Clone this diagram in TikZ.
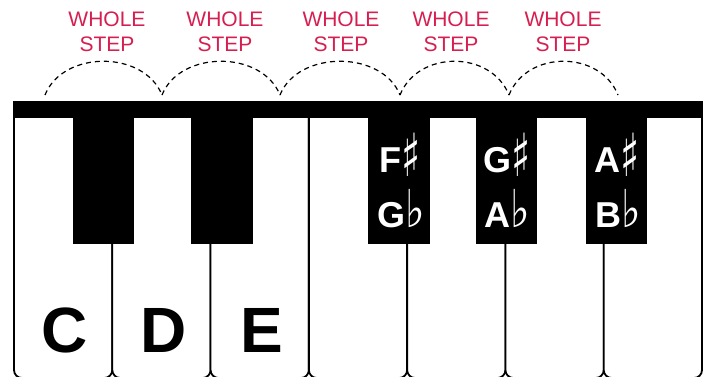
\documentclass[tikz,border=0pt]{standalone}
\usepackage{fontspec}
\usepackage{graphicx}
\setmainfont{Liberation Sans}
\newfontfamily\symfont{DejaVu Sans}
\definecolor{steprd}{RGB}{214,30,80}
\newcommand\shp{\raisebox{-4pt}{\scalebox{1.1}[1.65]{\symfont\mdseries\char"266F}}}
\newcommand\flt{\scalebox{1.15}[1.45]{\symfont\mdseries\char"266D}}
\begin{document}
\begin{tikzpicture}[x=1pt,y=-1pt,
  wkey/.style={draw=black, line width=1.8pt, fill=white, rounded corners=8pt},
  bkey/.style={fill=black},
  steparc/.style={draw=black, dash pattern=on 5pt off 4pt, line width=1.2pt},
  steplbl/.style={text=steprd, font=\fontsize{21}{25}\selectfont, align=center, inner sep=0pt},
  natlbl/.style={font=\bfseries\fontsize{64}{64}\selectfont, anchor=base, inner sep=0pt},
  acclbl/.style={text=white, font=\bfseries\fontsize{36}{36}\selectfont, anchor=base, inner sep=0pt}]
\useasboundingbox (0,0) rectangle (712,376);
% white keys
\foreach \i in {0,...,6} {
  \pgfmathsetmacro\xa{14+98.2857*\i}
  \pgfmathsetmacro\xb{14+98.2857*(\i+1)}
  \draw[wkey] (\xa,110) -- (\xa,378) -- (\xb,378) -- (\xb,110);
}
% top bar
\fill[bkey] (13,101) rectangle (703,118);
% black keys
\fill[bkey] (73,112) rectangle (134,244);
\fill[bkey] (191,112) rectangle (253,244);
\fill[bkey] (368,112) rectangle (430,244);
\fill[bkey] (476,112) rectangle (537,244);
\fill[bkey] (586,112) rectangle (647,244);
% natural labels
\node[natlbl] (c) at (65,352) {C};
\node[natlbl] (d) at (164,352) {D};
\node[natlbl] (e) at (262,352) {E};
% accidental labels
\node[acclbl] (fs) at (400,172) {F\shp};
\node[acclbl] (gb) at (401,227) {G\flt};
\node[acclbl] (gs) at (507,172) {G\shp};
\node[acclbl] (ab) at (507,227) {A\flt};
\node[acclbl] (as) at (617,172) {A\shp};
\node[acclbl] (bb) at (618,227) {B\flt};
% step arcs
\coordinate (a0) at (45,95);
\coordinate (a1) at (162,95);
\coordinate (a2) at (280,95);
\coordinate (a3) at (400,95);
\coordinate (a4) at (509,95);
\coordinate (a5) at (618,95);
\draw[steparc] (a0) .. controls +(18,-45) and +(-18,-45) .. (a1);
\draw[steparc] (a1) .. controls +(18,-45) and +(-18,-45) .. (a2);
\draw[steparc] (a2) .. controls +(18,-45) and +(-18,-45) .. (a3);
\draw[steparc] (a3) .. controls +(18,-45) and +(-18,-45) .. (a4);
\draw[steparc] (a4) .. controls +(18,-45) and +(-18,-45) .. (a5);
% step labels
\node[steplbl] (w1) at (107,32) {WHOLE\\STEP};
\node[steplbl] (w2) at (225,32) {WHOLE\\STEP};
\node[steplbl] (w3) at (341,32) {WHOLE\\STEP};
\node[steplbl] (w4) at (451,32) {WHOLE\\STEP};
\node[steplbl] (w5) at (563,32) {WHOLE\\STEP};
\end{tikzpicture}
\end{document}
